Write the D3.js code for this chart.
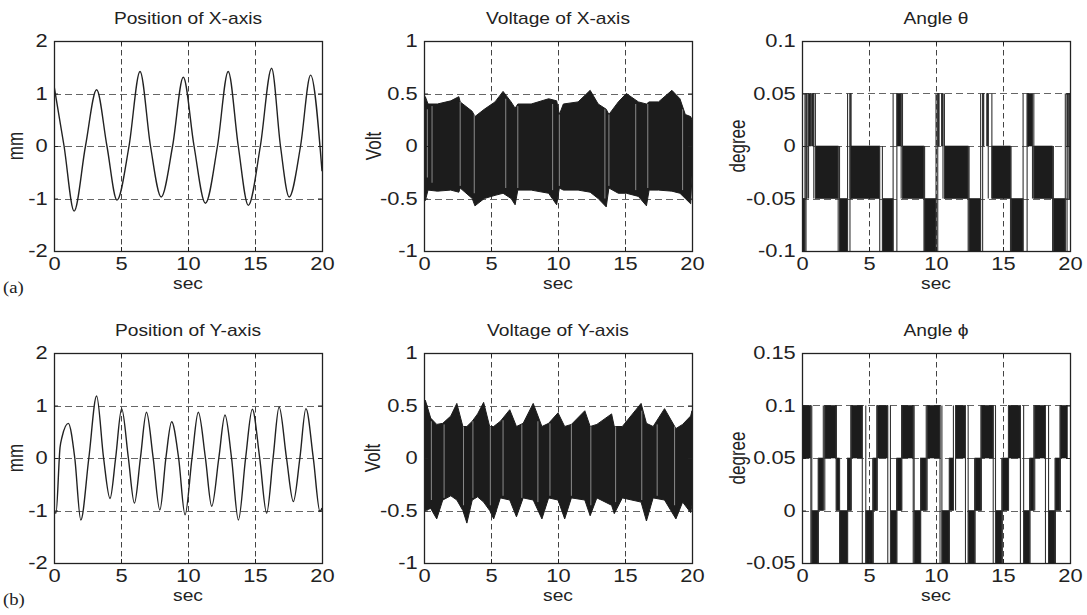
<!DOCTYPE html>
<html>
<head>
<meta charset="utf-8">
<script src="https://cdn.jsdelivr.net/npm/d3@7"></script>
<style>
  html, body { margin: 0; padding: 0; background: #fff; }
  svg { display: block; font-family: "Liberation Sans", Arial, sans-serif; }
</style>
</head>
<body>
<svg id="fig" width="1087" height="615"></svg>
<script>
// ---- Data ----
const timeTicks  = [0, 5, 10, 15, 20];
const posTicks   = [-2, -1, 0, 1, 2];
const voltTicks  = [-1, -0.5, 0, 0.5, 1];
const thetaTicks = [-0.1, -0.05, 0, 0.05, 0.1];
const phiTicks   = [-0.05, 0, 0.05, 0.1, 0.15];

// position of X-axis [sec, mm]
const posX = [
  [0, 1.15], [0.75, 0], [1.5, -1.24], [2.35, 0], [3.18, 1.07], [3.95, 0],
  [4.7, -1.03], [5.6, 0], [6.42, 1.42], [7.2, 0], [8.0, -0.97], [8.85, 0],
  [9.65, 1.31], [10.45, 0], [11.3, -1.09], [12.2, 0], [13.0, 1.42], [13.75, 0],
  [14.5, -1.13], [15.4, 0], [16.24, 1.48], [16.9, 0], [17.55, -0.97], [18.4, 0],
  [19.15, 1.35], [20, -0.48]
];

// position of Y-axis [sec, mm]
const posY = [
  [0, -1.02], [0.15, -1.05], [0.45, 0.2], [0.6, 0.4], [1.07, 0.66], [1.55, 0],
  [2.0, -1.18], [2.6, 0], [3.18, 1.18], [3.7, 0], [4.18, -0.77], [4.6, 0],
  [5.05, 0.94], [5.55, 0], [6.0, -0.86], [6.45, 0], [6.9, 0.87], [7.4, 0],
  [7.9, -0.99], [8.35, 0], [8.78, 0.69], [9.3, 0], [9.78, -1.08], [10.3, 0],
  [10.77, 0.87], [11.3, 0], [11.77, -0.92], [12.3, 0], [12.76, 0.82], [13.25, 0],
  [13.76, -1.18], [14.3, 0], [14.8, 0.93], [15.35, 0], [15.87, -1.05], [16.35, 0],
  [16.8, 0.97], [17.35, 0], [17.86, -0.83], [18.35, 0], [18.8, 0.94], [19.35, 0],
  [19.85, -1.02], [20, -0.95]
];

// voltage envelopes [sec, upper, lower]
const voltX = [
  [0.0, 0.27, -0.28], [0.1, 0.47, -0.52], [0.3, 0.40, -0.42], [1.0, 0.40, -0.43],
  [2.0, 0.43, -0.42], [2.6, 0.47, -0.44], [2.7, 0.42, -0.40], [3.6, 0.33, -0.50],
  [3.8, 0.28, -0.57], [4.5, 0.35, -0.50], [5.3, 0.42, -0.47], [5.9, 0.52, -0.45],
  [6.5, 0.42, -0.50], [6.8, 0.36, -0.56], [7.0, 0.40, -0.42], [8.0, 0.40, -0.42],
  [9.3, 0.45, -0.45], [9.9, 0.43, -0.56], [10.1, 0.30, -0.40], [10.4, 0.40, -0.42],
  [11.5, 0.42, -0.42], [12.4, 0.53, -0.44], [13.0, 0.40, -0.50], [13.6, 0.35, -0.58],
  [13.8, 0.30, -0.40], [14.5, 0.42, -0.45], [15.1, 0.50, -0.45], [16.0, 0.42, -0.48],
  [16.6, 0.40, -0.57], [16.8, 0.42, -0.42], [17.5, 0.42, -0.42], [18.5, 0.53, -0.43],
  [19.1, 0.45, -0.45], [19.5, 0.30, -0.50], [19.9, 0.28, -0.55], [20.0, 0.25, -0.28]
];
const voltY = [
  [0.0, 0.45, -0.45], [0.1, 0.55, -0.50], [0.5, 0.38, -0.48], [0.95, 0.32, -0.58],
  [1.4, 0.33, -0.40], [2.0, 0.40, -0.36], [2.45, 0.52, -0.40], [2.9, 0.30, -0.50],
  [3.2, 0.30, -0.62], [3.6, 0.35, -0.40], [4.0, 0.42, -0.37], [4.45, 0.53, -0.42],
  [4.9, 0.30, -0.50], [5.2, 0.30, -0.58], [5.7, 0.35, -0.38], [6.4, 0.46, -0.40],
  [6.9, 0.30, -0.56], [7.4, 0.33, -0.38], [8.15, 0.52, -0.40], [8.8, 0.30, -0.58],
  [9.3, 0.33, -0.38], [10.0, 0.43, -0.40], [10.5, 0.30, -0.58], [11.0, 0.32, -0.38],
  [12.0, 0.45, -0.40], [12.4, 0.30, -0.55], [12.9, 0.32, -0.38], [14.0, 0.42, -0.45],
  [14.2, 0.30, -0.53], [14.8, 0.30, -0.38], [16.2, 0.52, -0.42], [16.6, 0.33, -0.60],
  [17.1, 0.30, -0.38], [17.95, 0.47, -0.40], [18.8, 0.28, -0.58], [19.3, 0.32, -0.42],
  [19.9, 0.40, -0.52], [20.0, 0.45, -0.45]
];
// lighter streaks inside the voltage bands [sec, lower, upper]
const voltXStreaks = [
  [0.25, -0.3, 0.35], [0.6, -0.35, 0.38], [2.7, -0.38, 0.42], [3.75, -0.45, 0.3],
  [6.1, -0.4, 0.45], [7.0, -0.4, 0.38], [9.6, -0.42, 0.4], [10.1, -0.38, 0.3],
  [13.5, -0.5, 0.35], [13.8, -0.38, 0.3], [15.8, -0.42, 0.4], [16.7, -0.4, 0.4],
  [19.3, -0.42, 0.35]
];
const voltYStreaks = [
  [0.55, -0.4, 0.35], [1.5, -0.38, 0.32], [2.95, -0.45, 0.3], [3.65, -0.38, 0.35],
  [4.95, -0.45, 0.3], [5.9, -0.36, 0.36], [7.3, -0.38, 0.32], [8.5, -0.42, 0.35],
  [9.4, -0.36, 0.33], [11.0, -0.36, 0.32], [12.45, -0.45, 0.3], [14.3, -0.42, 0.3],
  [16.25, -0.4, 0.45], [17.4, -0.36, 0.32], [18.7, -0.45, 0.3]
];

// angle chatter blocks [start, end, low, high]
const thetaBlocks = [
  [0.00, 0.22, -0.10, -0.05], [0.30, 0.33, -0.05, 0.05], [0.49, 0.66, 0.00, 0.05],
  [0.74, 0.88, 0.00, 0.05], [1.00, 2.70, -0.05, 0.00], [2.80, 3.40, -0.10, -0.05],
  [3.58, 3.62, -0.05, 0.05], [3.62, 5.80, -0.05, 0.00], [6.00, 6.80, -0.10, -0.05],
  [7.08, 7.40, 0.00, 0.05], [7.50, 9.10, -0.05, 0.00], [9.15, 10.00, -0.10, -0.05],
  [10.13, 10.22, 0.00, 0.05], [10.42, 10.52, 0.00, 0.05], [10.63, 12.40, -0.05, 0.00],
  [12.47, 13.33, -0.10, -0.05], [13.48, 13.55, 0.00, 0.05], [13.80, 13.90, 0.00, 0.05],
  [14.17, 15.56, -0.05, 0.00], [15.60, 16.50, -0.10, -0.05], [16.80, 17.20, 0.00, 0.05],
  [17.30, 18.70, -0.05, 0.00], [18.76, 19.65, -0.10, -0.05], [19.78, 19.85, 0.00, 0.05],
  [19.95, 20.00, -0.05, 0.05]
];
const phiBlocks = [
  [0.07, 0.66, 0.05, 0.10], [0.73, 1.22, -0.05, 0.00], [1.22, 1.59, 0.00, 0.05],
  [1.70, 2.56, 0.05, 0.10], [2.56, 2.80, 0.00, 0.05], [2.80, 3.40, -0.05, 0.00],
  [3.40, 3.66, 0.00, 0.05], [3.66, 4.50, 0.05, 0.10], [4.76, 5.30, -0.05, 0.00],
  [5.30, 5.60, 0.00, 0.05], [5.60, 6.40, 0.05, 0.10], [6.60, 7.07, -0.05, 0.00],
  [7.07, 7.44, 0.00, 0.05], [7.44, 8.30, 0.05, 0.10], [8.37, 8.85, -0.05, 0.00],
  [8.85, 9.27, 0.00, 0.05], [9.34, 10.30, 0.05, 0.10], [10.44, 11.00, -0.05, 0.00],
  [11.00, 11.30, 0.00, 0.05], [11.46, 12.20, 0.05, 0.10], [12.40, 12.90, -0.05, 0.00],
  [12.90, 13.37, 0.00, 0.05], [13.37, 14.27, 0.05, 0.10], [14.44, 14.93, -0.05, 0.00],
  [14.93, 15.41, 0.00, 0.05], [15.41, 16.30, 0.05, 0.10], [16.54, 17.00, -0.05, 0.00],
  [17.00, 17.30, 0.00, 0.05], [17.37, 18.17, 0.05, 0.10], [18.40, 18.90, -0.05, 0.00],
  [18.90, 19.27, 0.00, 0.05], [19.27, 19.80, 0.05, 0.10]
];

// ---- Layout ----
const COL_X = [54, 424, 802];
const ROW_Y = [41, 353];
const PW = 268, PH = 210;
const SX = 1.2;          // the scan is stretched horizontally
const FONT = 16;
const TICK_FONT = 17.5;
const TICK_SX = 1.25;
const INK = "#1c1c1c";

const panels = [
  { col: 0, row: 0, title: "Position of X-axis", ylab: "mm",     ylabX: 15,  ticks: posTicks,   kind: "line",  data: posX },
  { col: 1, row: 0, title: "Voltage of X-axis",  ylab: "Volt",   ylabX: 373, ticks: voltTicks,  kind: "band",  data: voltX, streaks: voltXStreaks },
  { col: 2, row: 0, title: "Angle \u03B8",       ylab: "degree", ylabX: 737, ticks: thetaTicks, kind: "block", data: thetaBlocks },
  { col: 0, row: 1, title: "Position of Y-axis", ylab: "mm",     ylabX: 15,  ticks: posTicks,   kind: "line",  data: posY },
  { col: 1, row: 1, title: "Voltage of Y-axis",  ylab: "Volt",   ylabX: 372, ticks: voltTicks,  kind: "band",  data: voltY, streaks: voltYStreaks },
  { col: 2, row: 1, title: "Angle \u03D5",       ylab: "degree", ylabX: 737, ticks: phiTicks,   kind: "block", data: phiBlocks }
];

const svg = d3.select("#fig");
svg.append("rect").attr("width", 1087).attr("height", 615).attr("fill", "#fff");

panels.forEach((p, i) => {
  const left = COL_X[p.col], top = ROW_Y[p.row];
  const x = d3.scaleLinear().domain([0, 20]).range([0, PW]);
  const y = d3.scaleLinear().domain(d3.extent(p.ticks)).range([PH, 0]);

  const g = svg.append("g").attr("transform", `translate(${left},${top})`);

  g.append("clipPath").attr("id", "clip" + i)
    .append("rect").attr("width", PW).attr("height", PH);

  // dashed grid
  const grid = g.append("g").attr("stroke", "#444").attr("stroke-width", 1).attr("fill", "none");
  grid.selectAll(".vg").data(timeTicks.slice(1, -1)).enter().append("line")
    .attr("x1", d => Math.round(x(d)) + 0.5).attr("x2", d => Math.round(x(d)) + 0.5)
    .attr("y1", 0).attr("y2", PH)
    .attr("stroke-dasharray", "5.5,3.5");
  grid.selectAll(".hg").data(p.ticks.slice(1, -1)).enter().append("line")
    .attr("y1", d => Math.round(y(d)) + 0.5).attr("y2", d => Math.round(y(d)) + 0.5)
    .attr("x1", 0).attr("x2", PW)
    .attr("stroke", "#666")
    .attr("stroke-dasharray", "7,4");

  const plot = g.append("g").attr("clip-path", `url(#clip${i})`);

  if (p.kind === "line") {
    plot.append("path")
      .datum(p.data)
      .attr("fill", "none")
      .attr("stroke", "#222")
      .attr("stroke-width", 1.4)
      .attr("d", d3.line().x(d => x(d[0])).y(d => y(d[1])).curve(d3.curveMonotoneX));
  }

  if (p.kind === "band") {
    plot.append("path")
      .datum(p.data)
      .attr("fill", INK)
      .attr("stroke", INK)
      .attr("stroke-width", 1)
      .attr("d", d3.area().x(d => x(d[0])).y0(d => y(d[2])).y1(d => y(d[1])));
    plot.selectAll(".streak").data(p.streaks).enter().append("line")
      .attr("x1", d => x(d[0])).attr("x2", d => x(d[0]))
      .attr("y1", d => y(d[1])).attr("y2", d => y(d[2]))
      .attr("stroke", "#8a8a8a").attr("stroke-width", 1);
  }

  if (p.kind === "block") {
    plot.selectAll(".blk").data(p.data).enter().append("rect")
      .attr("x", d => x(d[0]))
      .attr("width", d => Math.max(1.2, x(d[1]) - x(d[0])))
      .attr("y", d => y(d[3]))
      .attr("height", d => y(d[2]) - y(d[3]))
      .attr("fill", INK)
      .attr("stroke", INK)
      .attr("stroke-width", 0.6);
    // jumps between successive blocks
    const jumps = [];
    for (let k = 0; k < p.data.length - 1; k++) {
      const a = p.data[k], b = p.data[k + 1];
      const lo = Math.min(a[2], b[2]), hi = Math.max(a[3], b[3]);
      jumps.push([a[1], lo, hi], [b[0], lo, hi]);
    }
    plot.selectAll(".jump").data(jumps).enter().append("line")
      .attr("x1", d => x(d[0])).attr("x2", d => x(d[0]))
      .attr("y1", d => y(d[1])).attr("y2", d => y(d[2]))
      .attr("stroke", "#333").attr("stroke-width", 1.1);
  }

  // axes with inward ticks on all sides
  const fmt = d => String(d);
  const bottom = g.append("g").attr("transform", `translate(0,${PH})`)
    .call(d3.axisBottom(x).tickValues(timeTicks).tickSize(-4).tickPadding(10).tickFormat(fmt));
  g.append("g")
    .call(d3.axisLeft(y).tickValues(p.ticks).tickSize(-4).tickPadding(5).tickFormat(fmt));
  g.append("g").call(d3.axisTop(x).tickValues(timeTicks).tickSize(-4).tickFormat(""));
  g.append("g").attr("transform", `translate(${PW},0)`)
    .call(d3.axisRight(y).tickValues(p.ticks).tickSize(-4).tickFormat(""));
  g.selectAll(".domain").remove();
  g.selectAll(".tick line").attr("stroke", "#222");
  g.selectAll(".tick text")
    .attr("fill", "#222")
    .style("font-size", TICK_FONT + "px")
    .style("font-family", "'Liberation Sans', Arial, sans-serif")
    .attr("transform", `scale(${TICK_SX},1)`);
  bottom.selectAll(".tick text").attr("dy", "0.71em").attr("y", 7);

  // frame
  g.append("rect")
    .attr("x", 0.5).attr("y", 0.5).attr("width", PW).attr("height", PH)
    .attr("fill", "none").attr("stroke", "#222").attr("stroke-width", 1.3);

  // texts
  svg.append("text")
    .attr("transform", `translate(${left + PW / 2},${top - 17}) scale(${SX},1)`)
    .attr("text-anchor", "middle")
    .style("font-size", FONT + "px")
    .attr("fill", "#222")
    .text(p.title);

  svg.append("text")
    .attr("transform", `translate(${left + PW / 2},${top + PH + 38}) scale(${SX},1)`)
    .attr("text-anchor", "middle")
    .style("font-size", FONT + "px")
    .attr("fill", "#222")
    .text("sec");

  svg.append("text")
    .attr("transform", `translate(${p.ylabX},${top + PH / 2}) scale(1.3,1) rotate(-90)`)
    .attr("text-anchor", "middle")
    .attr("dy", "0.35em")
    .style("font-size", "17px")
    .attr("fill", "#222")
    .text(p.ylab);
});

// sub-figure tags
[["(a)", ROW_Y[0] + PH + 42], ["(b)", ROW_Y[1] + PH + 42]].forEach(([t, yy]) => {
  svg.append("text")
    .attr("transform", `translate(3,${yy}) scale(1.1,1)`)
    .style("font-family", "'Liberation Serif', 'Times New Roman', serif")
    .style("font-size", "17px")
    .attr("fill", "#222")
    .text(t);
});
</script>
</body>
</html>
